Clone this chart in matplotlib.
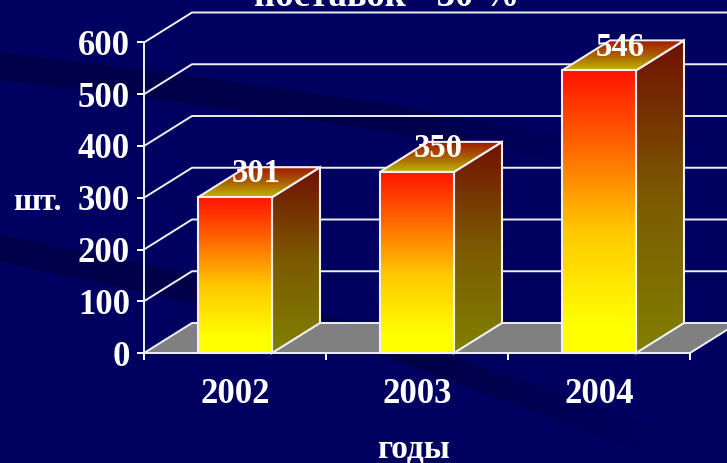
import numpy as np
import matplotlib
matplotlib.use("Agg")
import matplotlib.pyplot as plt
from matplotlib.colors import LinearSegmentedColormap, to_rgb
from matplotlib.patches import Polygon

plt.rcParams['font.family'] = ['Liberation Serif', 'DejaVu Serif']
plt.rcParams['font.weight'] = 'bold'

# data
years = ['2002', '2003', '2004']
counts = [301, 350, 546]
y_ticks = [0, 100, 200, 300, 400, 500, 600]

navy = '#000060'
swoosh_color = '#00004a'
line_c = '#f0f0f0'

# 3d look of the old chart: depth of the box in data units
depth_x = 48 / 182
depth_y = 30 / 0.5175
bar_w = 74 / 182

front_cm = LinearSegmentedColormap.from_list('front', [(0, '#ffff00'), (0.1, '#ffff00'), (0.43, '#ffc800'),
                                                       (0.75, '#ff6000'), (1, '#ff1400')])
side_cm = LinearSegmentedColormap.from_list('side', ['#808000', '#7c5a00', '#701000'])
top_cm = LinearSegmentedColormap.from_list('top', ['#c0b400', '#a86000', '#a01800'])

W, H = 727, 463
fig = plt.figure(figsize=(W / 100, H / 100), dpi=100, facecolor=navy)
ax = fig.add_axes([144 / W, 1 - 353 / H, 546 / W, 310.5 / H])
ax.patch.set_visible(False)

# dark bands of the slide background, they fade out to the right
bg = fig.add_axes([0, 0, 1, 1], zorder=-1)
bands = [
    ([(0, 52), (145, 70), (364, 100), (557, 135), (600, 145), (600, 175), (557, 160), (364, 128), (145, 98), (0, 80)],
     400, 600),
    ([(0, 235), (197, 275), (360, 325), (664, 429), (680, 450), (624, 445), (380, 355), (197, 304), (0, 262)],
     450, 670),
]
for pts, f0, f1 in bands:
    rgba = np.zeros((1, 300, 4))
    rgba[..., :3] = to_rgb(swoosh_color)
    rgba[..., 3] = np.clip((f1 - np.linspace(0, W, 300)) / (f1 - f0), 0, 1)
    im = bg.imshow(rgba, extent=(0, W, H, 0), aspect='auto')
    im.set_clip_path(Polygon(pts, closed=True, transform=bg.transData))
bg.set_xlim(0, W)
bg.set_ylim(H, 0)
bg.axis('off')

# floor
ax.add_patch(Polygon([(0, 0), (3, 0), (3 + depth_x, depth_y), (depth_x, depth_y)], closed=True,
                     fc='#808080', ec='none', clip_on=False, zorder=1))

# back wall lines
for v in y_ticks:
    ax.plot([0, depth_x, 3 + depth_x], [v, v + depth_y, v + depth_y], color=line_c, lw=1.4,
            clip_on=False, zorder=2, solid_joinstyle='miter')
ax.plot([3, 3 + depth_x], [0, depth_y], color=line_c, lw=1.4, clip_on=False, zorder=2)


def shaded(pts, cmap, z):
    pts = np.array(pts)
    grad = np.linspace(1, 0, 256).reshape(-1, 1)
    im = ax.imshow(grad, cmap=cmap, vmin=0, vmax=1, aspect='auto', zorder=z,
                   extent=(pts[:, 0].min(), pts[:, 0].max(), pts[:, 1].min(), pts[:, 1].max()))
    im.set_clip_box(None)
    im.set_clip_path(Polygon(pts, closed=True, transform=ax.transData))
    ax.add_patch(Polygon(pts, closed=True, fc='none', ec=line_c, lw=1.5, clip_on=False, zorder=z + 0.1,
                         joinstyle='miter'))


for i, val in enumerate(counts):
    x0 = i + 0.5 - bar_w / 2
    x1 = i + 0.5 + bar_w / 2
    shaded([(x1, 0), (x1 + depth_x, depth_y), (x1 + depth_x, val + depth_y), (x1, val)], side_cm, 3)
    shaded([(x0, val), (x1, val), (x1 + depth_x, val + depth_y), (x0 + depth_x, val + depth_y)], top_cm, 3.2)
    shaded([(x0, 0), (x1, 0), (x1, val), (x0, val)], front_cm, 3.4)
    ax.text(i + 0.5 + 0.118, val + 45, str(val), color='white', fontsize=23.5, ha='center', va='center',
            zorder=5, clip_on=False)

ax.set_xlim(0, 3)
ax.set_ylim(0, 600)

for s in ['top', 'right']:
    ax.spines[s].set_visible(False)
for s in ['left', 'bottom']:
    ax.spines[s].set_color(line_c)
    ax.spines[s].set_linewidth(1.4)
    ax.spines[s].set_zorder(6)

ax.set_yticks(y_ticks)
ax.set_yticklabels([str(v) for v in y_ticks])
ax.tick_params(axis='y', colors='white', length=5, width=1.4, pad=5, labelsize=25)
ax.set_xticks([0, 1, 2, 3])
ax.set_xticklabels([])
ax.set_xticks([0.5, 1.5, 2.5], minor=True)
ax.set_xticklabels(years, minor=True)
ax.tick_params(axis='x', which='major', colors='white', length=5, width=1.4)
ax.tick_params(axis='x', which='minor', colors='white', length=0, pad=18, labelsize=25)

ax.set_ylabel('шт.', rotation=0, color='white', fontsize=23, fontweight='bold', ha='center', va='center')
ax.yaxis.set_label_coords((37 - 144) / 546, (353 - 203) / 310.5)
ax.set_xlabel('годы', color='white', fontsize=24, fontweight='bold', ha='center', va='center')
ax.xaxis.set_label_coords((414 - 144) / 546, (353 - 449) / 310.5)

fig.text(387 / W, 1 - 6 / H, 'поставок - 30 %', color='white', fontsize=26.5, ha='center', va='baseline')

fig.savefig('out.png', dpi=100, facecolor=navy)
